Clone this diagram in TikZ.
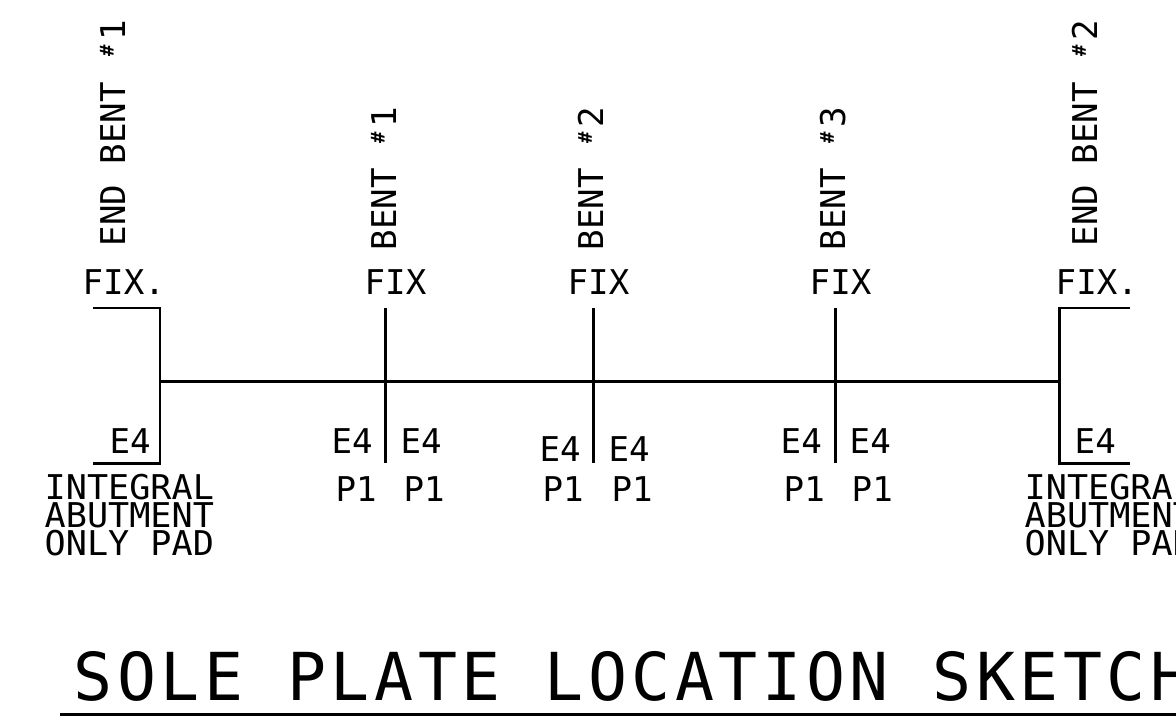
\documentclass[tikz,border=0pt]{standalone}
\usepackage{fontspec}
\newfontfamily\cadfont{DejaVu Sans Mono}
\newfontfamily\cadwidefont[FakeStretch=1.03]{DejaVu Sans Mono}
\newfontfamily\cadbigfont[FakeStretch=0.98,LetterSpace=7]{DejaVu Sans Mono}
\newcommand{\raisedhash}{\makebox[0.602em][c]{\raisebox{0.33em}{\fontsize{5.4pt}{5.4pt}\selectfont\bfseries\#}}}
\tikzset{
	cad/.style={inner sep=0pt,anchor=base west,font=\cadfont\fontsize{9.7pt}{9.7pt}\selectfont},
	cadtitle/.style={inner sep=0pt,anchor=base west,font=\cadbigfont\fontsize{18.8pt}{18.8pt}\selectfont},
	bentname/.style={cad,rotate=90},
	stack/.style={cad,align=left,anchor=north west,font=\cadwidefont\fontsize{9.7pt}{8.1pt}\selectfont},
	line/.style={line width=0.85pt}
}
\begin{document}
\begin{tikzpicture}[x=0.01cm,y=-0.01cm]
	\useasboundingbox (0,0) rectangle (1176,715);
	\coordinate (a0) at (160,381);
	\coordinate (a4) at (1059,381);
	\coordinate (t1) at (385,308);
	\coordinate (b1) at (385,463);
	\coordinate (t2) at (593,308);
	\coordinate (b2) at (593,463);
	\coordinate (t3) at (835,308);
	\coordinate (b3) at (835,463);
	\coordinate (tl) at (93,308);
	\coordinate (tlc) at (160,308);
	\coordinate (bl) at (93,463);
	\coordinate (blc) at (160,463);
	\coordinate (tr) at (1130,308);
	\coordinate (trc) at (1059,308);
	\coordinate (br) at (1130,463);
	\coordinate (brc) at (1059,463);
	\coordinate (u0) at (60,714);
	\coordinate (u1) at (1176,714);
	\draw[line] (a0) -- (a4);
	\draw[line] (tl) -- (tlc) -- (blc) -- (bl);
	\draw[line] (tr) -- (trc) -- (brc) -- (br);
	\draw[line] (t1) -- (b1);
	\draw[line] (t2) -- (b2);
	\draw[line] (t3) -- (b3);
	\draw[line] (u0) -- (u1);
	% names over the supports
	\node[bentname] (n0) at (125,247) {END BENT \raisedhash1};
	\node[bentname] (n1) at (396,251) {BENT \raisedhash1};
	\node[bentname] (n2) at (603,251) {BENT \raisedhash2};
	\node[bentname] (n3) at (845,251) {BENT \raisedhash3};
	\node[bentname] (n4) at (1097,247) {END BENT \raisedhash2};
	\node[cad] (f0) at (82,294) {FIX.};
	\node[cad] (f1) at (364,294) {FIX};
	\node[cad] (f2) at (567,294) {FIX};
	\node[cad] (f3) at (809,294) {FIX};
	\node[cad] (f4) at (1055,294) {FIX.};
	% bearing marks
	\node[cad] (e0) at (109,453) {E4};
	\node[cad] (e1) at (331,453) {E4};
	\node[cad] (e2) at (400,453) {E4};
	\node[cad] (e3) at (539,461) {E4};
	\node[cad] (e4) at (608,461) {E4};
	\node[cad] (e5) at (780,453) {E4};
	\node[cad] (e6) at (849,453) {E4};
	\node[cad] (e7) at (1074,453) {E4};
	\node[cad] (p1) at (335,501) {P1};
	\node[cad] (p2) at (403,501) {P1};
	\node[cad] (p3) at (542,501) {P1};
	\node[cad] (p4) at (611,501) {P1};
	\node[cad] (p5) at (783,501) {P1};
	\node[cad] (p6) at (851,501) {P1};
	\node[stack] (s0) at (44,473) {INTEGRAL\\ABUTMENT\\ONLY PAD};
	\node[stack] (s1) at (1024,473) {INTEGRAL\\ABUTMENT\\ONLY PAD};
	\node[cadtitle] (title) at (73,700) {SOLE PLATE LOCATION SKETCH};
\end{tikzpicture}
\end{document}
